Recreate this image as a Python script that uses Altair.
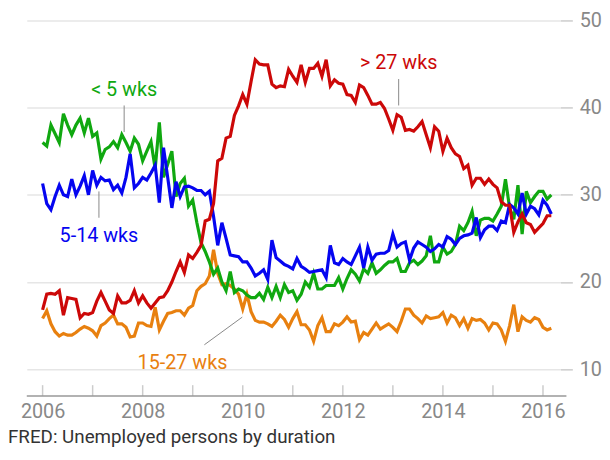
import altair as alt
import pandas as pd

# Monthly values, Jan 2006 .. Mar 2016 (percent of unemployed)
start_year = 2006
lt5 = [36.0,35.6,38.0,37.0,36.0,39.3,38.0,36.9,38.0,38.8,37.1,38.8,
       36.7,37.1,34.1,35.2,35.5,36.1,35.4,36.9,36.0,35.0,36.5,35.8,
       33.9,35.0,36.1,33.0,38.3,32.0,33.5,35.0,29.8,31.3,31.9,28.7,
       29.4,26.8,24.5,23.5,22.3,20.9,21.6,20.0,19.0,21.2,18.8,19.2,
       19.0,18.5,18.2,18.2,18.7,18.0,19.4,18.2,19.5,18.2,19.7,18.8,
       19.0,17.9,18.6,20.0,19.4,21.0,19.2,19.2,19.6,19.6,19.6,20.5,
       19.2,20.4,21.4,20.9,20.1,21.5,21.0,22.2,21.0,21.4,21.9,22.3,
       22.3,22.7,21.2,21.2,22.2,22.5,22.0,22.4,23.0,25.3,22.3,22.3,
       24.0,23.2,23.5,24.3,26.4,25.9,26.8,28.1,25.3,27.1,27.3,27.3,
       27.0,27.8,28.7,31.8,28.5,27.2,31.1,25.5,30.4,29.1,29.8,30.4,
       30.4,29.5,30.0]
w5_14 = [31.3,29.0,28.3,29.8,31.1,30.0,29.8,31.8,30.0,31.0,32.2,30.0,
         32.8,31.1,32.0,31.6,31.7,30.6,31.1,30.2,32.0,34.7,30.8,31.3,
         32.0,31.7,32.5,33.4,29.1,35.4,32.0,28.5,31.5,29.8,30.9,31.0,
         30.8,30.5,30.5,30.0,30.4,27.5,24.2,26.8,25.0,23.1,23.0,22.9,
         22.3,22.3,21.6,20.7,21.0,21.4,20.3,24.8,22.8,22.4,22.0,21.8,
         21.5,22.7,21.8,21.5,21.1,21.2,21.3,21.4,20.5,24.2,22.2,22.0,
         22.7,22.3,22.0,23.0,24.0,21.6,24.0,22.5,23.2,23.3,23.3,23.6,
         25.5,24.0,24.4,24.6,22.5,23.9,24.6,24.3,24.0,23.5,23.8,24.3,
         24.0,25.2,24.9,24.3,25.0,25.3,25.4,25.6,27.4,25.1,26.0,26.4,
         26.4,25.9,27.0,26.8,28.9,28.5,27.8,30.2,27.8,28.7,28.4,27.7,
         29.4,28.8,27.8]
w15_27 = [15.8,16.7,15.2,14.3,13.8,14.1,13.9,13.9,14.2,14.6,14.9,14.7,
          14.4,13.8,15.0,15.3,15.8,16.2,15.2,15.2,14.8,13.7,13.8,15.3,
          15.3,15.0,14.9,17.1,14.5,15.5,16.4,16.5,16.7,16.7,16.2,17.0,
          17.3,19.0,19.5,19.8,20.7,23.7,21.0,19.7,19.8,19.6,19.2,18.6,
          16.9,18.6,16.6,15.6,15.4,15.4,15.2,14.9,15.5,16.2,15.7,14.8,
          15.8,16.6,15.1,15.1,14.5,13.2,15.0,15.9,14.3,14.3,15.2,15.0,
          15.4,16.0,15.4,15.5,13.4,14.2,13.9,14.6,15.3,14.6,14.9,15.2,
          14.8,14.3,15.5,16.9,16.9,16.2,15.8,15.3,16.1,15.8,15.9,16.0,
          16.5,15.3,16.2,15.9,15.0,15.8,14.7,15.8,15.6,15.7,15.3,14.5,
          15.3,15.2,14.5,13.2,15.0,17.4,14.3,16.0,15.6,15.4,15.9,15.7,
          14.8,14.5,14.7]
gt27 = [16.8,18.6,18.7,18.6,19.0,16.2,18.2,18.1,18.0,15.9,16.4,16.3,
        16.5,17.8,18.8,17.8,16.8,16.4,18.4,17.6,17.6,17.9,19.0,17.6,
        18.4,17.6,17.0,17.6,18.2,18.3,19.0,20.0,21.2,22.3,21.1,23.1,
        22.7,23.4,24.2,27.0,27.2,29.0,33.9,34.2,36.5,36.7,39.1,40.2,
        41.5,40.4,43.0,45.5,45.0,44.9,44.9,42.7,42.3,42.5,42.4,44.4,
        43.6,42.9,44.9,42.9,44.5,44.5,45.1,43.6,45.5,42.5,43.2,42.8,
        42.7,41.5,41.4,40.6,42.6,42.3,41.4,40.4,40.4,40.6,39.9,38.7,
        37.4,39.2,38.9,37.4,37.5,37.3,37.8,38.4,36.9,35.4,37.8,37.3,
        35.0,36.5,35.4,34.7,34.4,33.0,33.4,31.1,31.9,31.9,31.2,31.8,
        31.2,30.8,29.2,28.8,28.8,25.7,26.9,27.8,26.8,26.6,25.7,26.2,
        26.7,27.6,27.6]

series_names = ["< 5 wks", "5-14 wks", "15-27 wks", "> 27 wks"]
series_values = [lt5, w5_14, w15_27, gt27]
series_colors = ["#10a810", "#0505f0", "#e8800f", "#cc0808"]
draw_order = ["15-27 wks", "< 5 wks", "5-14 wks", "> 27 wks"]

x_ticks = [2006, 2007, 2008, 2009, 2010, 2011, 2012, 2013, 2014, 2015, 2016]
x_labels = [2006, 2008, 2010, 2012, 2014, 2016]
y_ticks = [10, 20, 30, 40, 50]

# annotation anchors (data units)
label_text = ["< 5 wks", "5-14 wks", "> 27 wks", "15-27 wks"]
label_color = ["#10a810", "#0505f0", "#cc0808", "#e8800f"]
label_x = [2007.63, 2007.126, 2013.116, 2008.795]
label_y = [42.0, 25.3, 45.1, 10.75]
lead_x = [2007.63, 2007.126, 2013.116, 2009.233]
lead_y = [40.25, 30.39, 43.28, 12.80]
lead_x2 = [2007.63, 2007.126, 2013.116, 2009.99]
lead_y2 = [37.2, 27.37, 40.25, 15.97]

footer = "FRED: Unemployed persons by duration"

W, H = 540, 380
FONT = "Roboto"

rows = []
for name, vals in zip(series_names, series_values):
    for i, v in enumerate(vals):
        rows.append({"series": name, "t": start_year + i / 12.0, "v": v})
df = pd.DataFrame(rows)

xs = alt.Scale(domain=[2005.684, 2016.35], nice=False, zero=False)
ys = alt.Scale(domain=[6.92, 50], nice=False, zero=False)

base_x_axis = alt.Axis(values=x_labels, format="d", ticks=False, domain=False, grid=False,
                       labelFont=FONT, labelFontSize=20, labelColor="#888888",
                       labelPadding=6, title=None)
y_axis = alt.Axis(orient="right", values=y_ticks, format="d", domain=False, grid=True,
                  gridColor="#e6e6e6", gridWidth=1.5, tickColor="#cccccc", tickWidth=1.5,
                  tickSize=12, labelFont=FONT, labelFontSize=20, labelColor="#888888",
                  labelPadding=7, title=None)

layers = []
frame = alt.Chart(pd.DataFrame({"t": x_ticks})).mark_rule(
    color="#cccccc", strokeWidth=1.5
).encode(
    x=alt.X("t:Q", scale=xs, axis=base_x_axis),
    y=alt.value(H - 11), y2=alt.value(H),
)
layers.append(frame)

baseline = alt.Chart(pd.DataFrame({"a": [0]})).mark_rule(color="#999999", strokeWidth=1.5).encode(
    x=alt.value(0), x2=alt.value(W + 6), y=alt.value(H)
)
layers.append(baseline)

for name in draw_order:
    col = series_colors[series_names.index(name)]
    layers.append(
        alt.Chart(df[df.series == name]).mark_line(color=col, strokeWidth=3.2, strokeJoin="miter").encode(
            x=alt.X("t:Q", scale=xs, axis=base_x_axis),
            y=alt.Y("v:Q", scale=ys, axis=y_axis),
        )
    )

ann = pd.DataFrame({"text": label_text, "color": label_color, "x": label_x, "y": label_y,
                    "lx": lead_x, "ly": lead_y, "lx2": lead_x2, "ly2": lead_y2})
leaders = alt.Chart(ann).mark_rule(color="#888888", strokeWidth=1).encode(
    x=alt.X("lx:Q", scale=xs), y=alt.Y("ly:Q", scale=ys), x2="lx2:Q", y2="ly2:Q"
)
labels = alt.Chart(ann).mark_text(font=FONT, fontSize=20, align="center", baseline="middle").encode(
    x=alt.X("x:Q", scale=xs), y=alt.Y("y:Q", scale=ys), text="text:N",
    color=alt.Color("color:N", scale=None)
)
foot = alt.Chart(pd.DataFrame({"f": [footer]})).mark_text(
    font=FONT, fontSize=19, align="left", baseline="middle", color="#333333"
).encode(text="f:N", x=alt.value(-19), y=alt.value(422))

layers += [leaders, labels, foot]

chart = alt.layer(*layers).properties(
    width=W, height=H,
    padding={"left": 19, "top": 10, "right": 42, "bottom": 52},
    autosize=alt.AutoSizeParams(type="none"),
).configure_view(stroke=None)

chart.save("out.html", embed_options={"renderer": "svg", "actions": False})
